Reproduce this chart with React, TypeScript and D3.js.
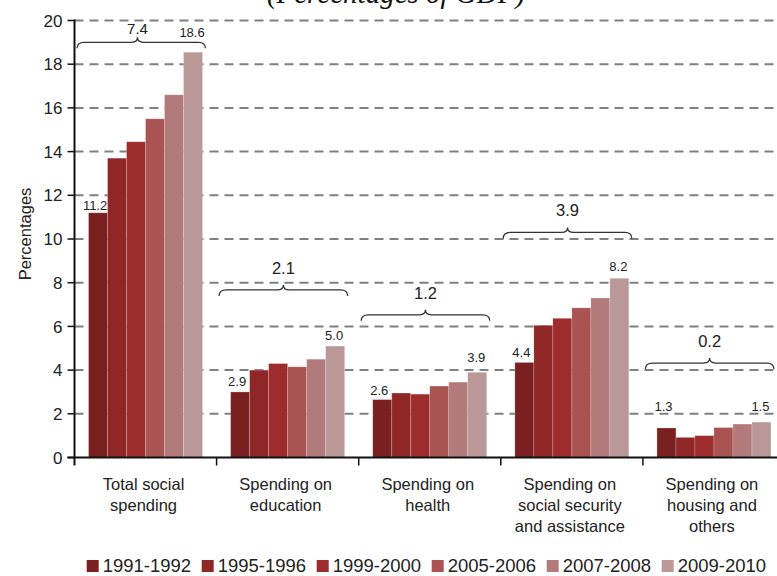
import React from "react";
import * as d3 from "d3";

const categories = [
  "Total social spending",
  "Spending on education",
  "Spending on health",
  "Spending on social security and assistance",
  "Spending on housing and others",
];
const categoryLines = [
  ["Total social", "spending"],
  ["Spending on", "education"],
  ["Spending on", "health"],
  ["Spending on", "social security", "and assistance"],
  ["Spending on", "housing and", "others"],
];
const series = ["1991-1992", "1995-1996", "1999-2000", "2005-2006", "2007-2008", "2009-2010"];
const colors = ["#7b2020", "#8f2727", "#9f2c2c", "#aa5353", "#b27a7a", "#ba9898"];

const v1991 = [11.2, 3.0, 2.65, 4.35, 1.35];
const v1995 = [13.7, 4.0, 2.95, 6.05, 0.92];
const v1999 = [14.45, 4.3, 2.9, 6.37, 1.0];
const v2005 = [15.5, 4.15, 3.27, 6.85, 1.37];
const v2007 = [16.6, 4.5, 3.45, 7.3, 1.53];
const v2009 = [18.55, 5.1, 3.9, 8.2, 1.62];
const seriesValues = [v1991, v1995, v1999, v2005, v2007, v2009];

const firstLabels = ["11.2", "2.9", "2.6", "4.4", "1.3"];
const lastLabels = ["18.6", "5.0", "3.9", "8.2", "1.5"];
const changeLabels = ["7.4", "2.1", "1.2", "3.9", "0.2"];
const braceLevels = [19.0, 7.67, 6.53, 10.3, 4.32];

const yTicks = [0, 2, 4, 6, 8, 10, 12, 14, 16, 18, 20];

// layout (pixel offsets, not data)
const firstLabelGap = [3, 6, 5, 5, 17];
const lastLabelGap = [15, 6, 10, 7, 11];

const FONT = "'Liberation Sans', Arial, Helvetica, sans-serif";

function bracePath(x0: number, x1: number, y: number, xm: number) {
  const d = 6;
  const r = 7;
  return [
    `M${x0},${y + d}`,
    `Q${x0},${y} ${x0 + r},${y}`,
    `L${xm - 6},${y}`,
    `Q${xm},${y} ${xm},${y - 5}`,
    `Q${xm},${y} ${xm + 6},${y}`,
    `L${x1 - r},${y}`,
    `Q${x1},${y} ${x1},${y + d}`,
  ].join(" ");
}

export default function App() {
  const W = 777;
  const H = 576;
  const left = 74.5;
  const step = 142.1;
  const x0 = d3
    .scaleBand<string>()
    .domain(categories)
    .range([left, left + step * categories.length])
    .paddingInner(0)
    .paddingOuter(0);
  const x1 = d3
    .scaleBand<string>()
    .domain(series)
    .range([0, x0.bandwidth()])
    .paddingInner(0)
    .paddingOuter(0.74);
  const y = d3.scaleLinear().domain([0, 20]).range([457.5, 20.5]);

  const boundaries = categories.map((c) => x0(c) as number);

  return (
    <svg
      width={W}
      height={H}
      style={{ position: "fixed", left: 0, top: 0, background: "#fff" }}
    >
      <rect x={0} y={0} width={W} height={H} fill="#fff" />
      {/* title (cropped) */}
      <text
        x={396}
        y={3}
        textAnchor="middle"
        fontFamily="'Liberation Serif', 'Times New Roman', serif"
        fontStyle="italic"
        fontSize={29}
        fill="#111"
      >
        (Percentages of GDP)
      </text>

      {/* gridlines */}
      {yTicks
        .filter((t) => t > 0)
        .map((t) => (
          <line
            key={"g" + t}
            x1={left}
            x2={W + 20}
            y1={y(t)}
            y2={y(t)}
            stroke="#808080"
            strokeWidth={2}
            strokeDasharray="9,6"
          />
        ))}

      {/* bars */}
      {categories.map((c, ci) => (
        <g key={c} transform={`translate(${x0(c)},0)`}>
          {series.map((s, si) => {
            const v = seriesValues[si][ci];
            return (
              <rect
                key={s}
                x={x1(s)}
                y={y(v)}
                width={x1.bandwidth()}
                height={y(0) - y(v)}
                fill={colors[si]}
                stroke="rgba(255,255,255,0.25)"
                strokeWidth={0.8}
              />
            );
          })}
        </g>
      ))}

      {/* first / last value labels */}
      {categories.map((c, ci) => {
        const bx = x0(c) as number;
        const f = bx + (x1(series[0]) as number) + x1.bandwidth() / 2;
        const l = bx + (x1(series[5]) as number) + x1.bandwidth() / 2;
        return (
          <g key={"lab" + c} fontFamily={FONT} fontSize={13} fill="#222" textAnchor="middle">
            <text x={f - 3} y={y(seriesValues[0][ci]) - firstLabelGap[ci]}>
              {firstLabels[ci]}
            </text>
            <text x={l - 1} y={y(seriesValues[5][ci]) - lastLabelGap[ci]}>
              {lastLabels[ci]}
            </text>
          </g>
        );
      })}

      {/* braces */}
      {categories.map((c, ci) => {
        const bx = x0(c) as number;
        const xa = bx + 2.5;
        const xb = bx + 131;
        const xm = ci === 0 ? bx + 63 : (xa + xb) / 2;
        const by = y(braceLevels[ci]);
        return (
          <g key={"br" + c}>
            <path d={bracePath(xa, xb, by, xm)} fill="none" stroke="#333" strokeWidth={1.3} />
            <text
              x={xm}
              y={by - (ci === 0 ? 8 : 16)}
              textAnchor="middle"
              fontFamily={FONT}
              fontSize={ci === 0 ? 15 : 16.5}
              fill="#222"
            >
              {changeLabels[ci]}
            </text>
          </g>
        );
      })}

      {/* y axis */}
      <line x1={left} x2={left} y1={y(20) - 1} y2={y(0) + 8} stroke="#111" strokeWidth={2} />
      {yTicks.map((t) => (
        <g key={"yt" + t}>
          <line x1={left - 7} x2={left} y1={y(t)} y2={y(t)} stroke="#111" strokeWidth={1.5} />
          <text
            x={left - 12}
            y={y(t)}
            dy="0.36em"
            textAnchor="end"
            fontFamily={FONT}
            fontSize={17}
            fill="#222"
          >
            {t}
          </text>
        </g>
      ))}
      <text
        transform={`translate(31,234) rotate(-90)`}
        textAnchor="middle"
        fontFamily={FONT}
        fontSize={16.5}
        fill="#222"
      >
        Percentages
      </text>

      {/* x axis */}
      <line x1={left - 7} x2={W + 20} y1={y(0)} y2={y(0)} stroke="#111" strokeWidth={2} />
      {boundaries.map((b, i) =>
        i === 0 ? null : (
          <line key={"xt" + i} x1={b} x2={b} y1={y(0)} y2={y(0) + 8} stroke="#111" strokeWidth={1.5} />
        )
      )}
      {categories.map((c, ci) => {
        const cx = (x0(c) as number) + x0.bandwidth() / 2 - 2;
        return (
          <text key={"cl" + c} textAnchor="middle" fontFamily={FONT} fontSize={16.5} fill="#222">
            {categoryLines[ci].map((ln, li) => (
              <tspan key={li} x={cx} y={490 + li * 21}>
                {ln}
              </tspan>
            ))}
          </text>
        );
      })}

      {/* legend */}
      {series.map((s, si) => {
        const lx = 86.7 + si * 115;
        return (
          <g key={"lg" + s}>
            <rect x={lx} y={560} width={12} height={12} fill={colors[si]} />
            <text x={lx + 16} y={572} fontFamily={FONT} fontSize={18.5} fill="#222">
              {s}
            </text>
          </g>
        );
      })}
    </svg>
  );
}
